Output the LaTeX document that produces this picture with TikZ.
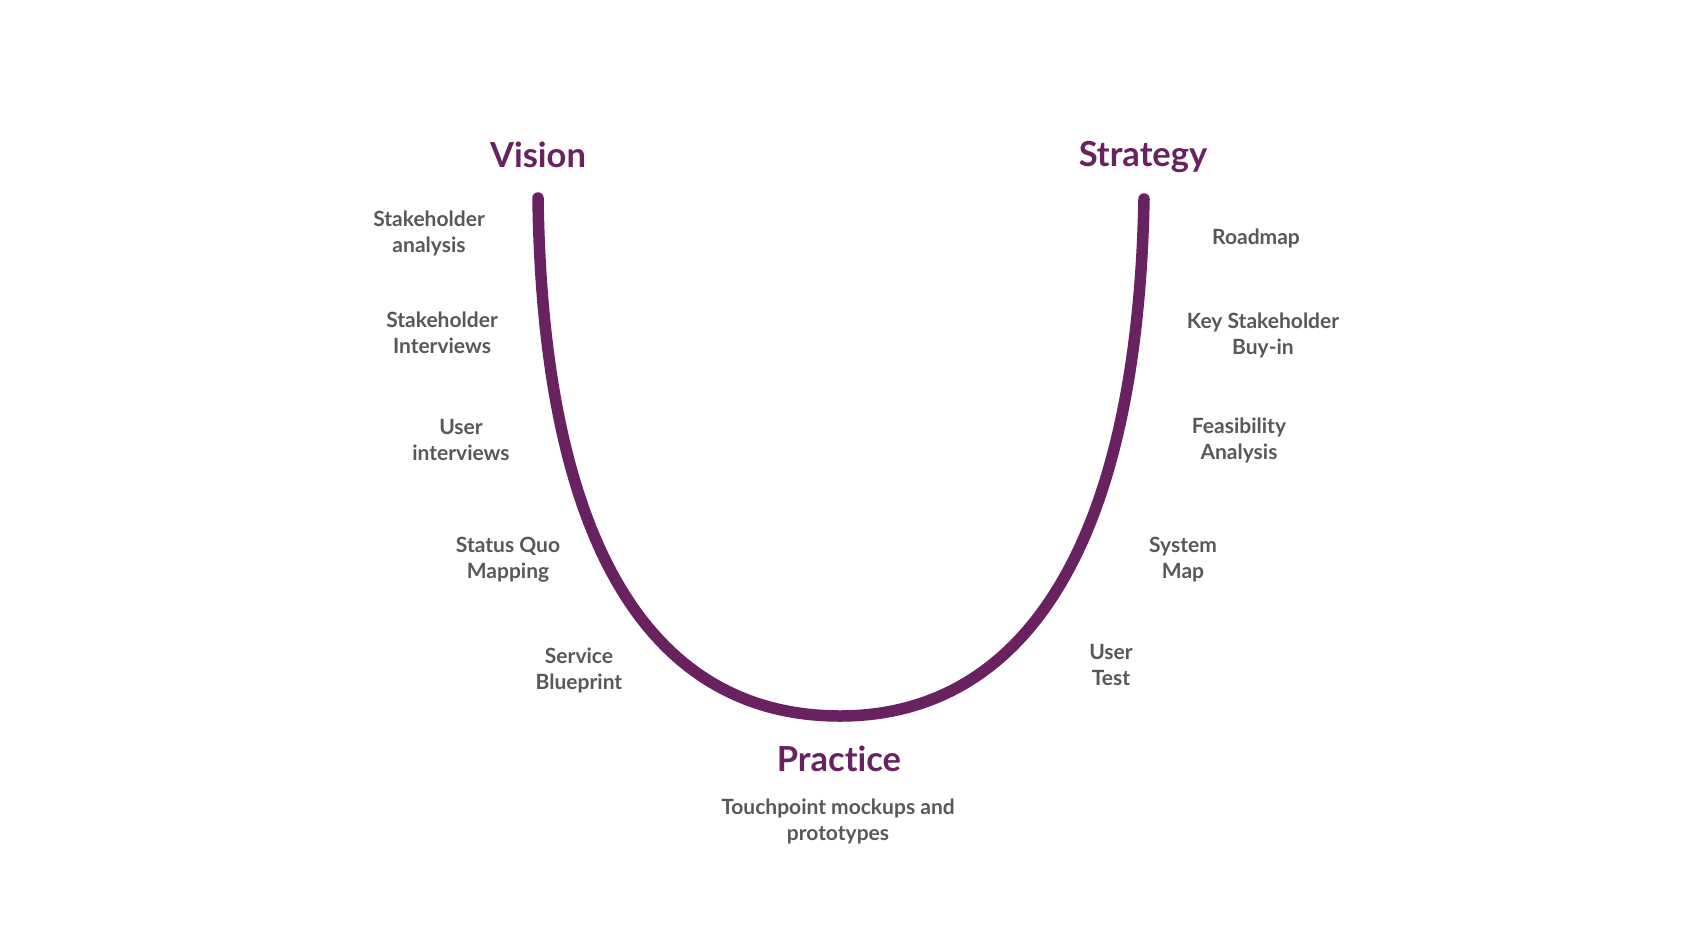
\documentclass[tikz,border=0pt]{standalone}
\usepackage{fontspec}
\setmainfont{Lato}[Ligatures=NoCommon]
\usepackage{tikz}
\usetikzlibrary{positioning}
\definecolor{plum}{HTML}{682260}
\definecolor{textgrey}{HTML}{585858}

\tikzset{
    phase/.style={text=plum, font=\fontsize{34.5}{38}\selectfont\bfseries, inner sep=0pt},
    tool/.style={text=textgrey, font=\fontsize{21}{26}\selectfont\bfseries, align=center, inner sep=0pt},
}

\begin{document}
\begin{tikzpicture}[x=1pt, y=-1pt]
    \useasboundingbox (0,0) rectangle (1685,948);

    % the U
    \coordinate (Vtop) at (538,198);
    \coordinate (Pbot) at (840,716);
    \coordinate (Stop) at (1144,199);
    \draw [plum, line width=11.5pt, line cap=round] (Vtop) .. controls (543,560) and (660,716) .. (Pbot)
        .. controls (1015,716) and (1137,560) .. (Stop);

    \node (vision) [phase] at (538,155) {Vision};
    \node (strategy) [phase] at (1143,157) {Strategy};
    \node (practice) [phase] at (839,759) {Practice};
    \node (touch) [tool] at (838,821) {Touchpoint mockups and\\prototypes};

    \node (sha) [tool] at (429,233) {Stakeholder\\analysis};
    \node (shi) [tool] at (442,333) {Stakeholder\\Interviews};
    \node (ui) [tool] at (461,440) {User\\interviews};
    \node (sq) [tool] at (508,560) {Status Quo\\Mapping};
    \node (sb) [tool] at (579,670) {Service\\Blueprint};

    \node (road) [tool] at (1256,238) {Roadmap};
    \node (ksb) [tool] at (1263,335) {Key Stakeholder\\Buy-in};
    \node (fa) [tool] at (1239,440) {Feasibility\\Analysis};
    \node (sm) [tool] at (1183,560) {System\\Map};
    \node (ut) [tool] at (1111,665) {User\\Test};
\end{tikzpicture}
\end{document}
